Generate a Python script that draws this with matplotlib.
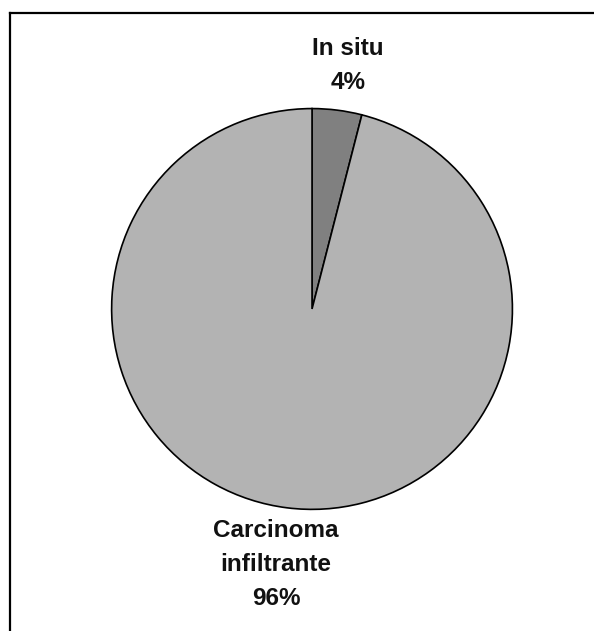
import matplotlib.pyplot as plt
from matplotlib.lines import Line2D

# tumour type shares
labels = ["In situ", "Carcinoma\ninfiltrante"]
shares = [4, 96]
colors = ["#808080", "#b3b3b3"]

plt.rcParams['font.family'] = ['Liberation Sans', 'DejaVu Sans']

fig = plt.figure(figsize=(5.94, 6.31), dpi=100)
ax = fig.add_axes([0.1869, 0.1918, 0.6768, 0.6371])
ax.pie(shares, colors=colors, startangle=90, counterclock=False,
       wedgeprops=dict(edgecolor="black", linewidth=1.2))
ax.set_xlim(-1.003, 1.003)
ax.set_ylim(-1.003, 1.003)
ax.set_aspect("equal")

# labels with percentages
fig.text(0.586, 0.859, f"{labels[0]}\n{shares[0]}%", ha="center", va="baseline",
         fontsize=17.5, fontweight="bold", linespacing=1.62, color="#111111")
fig.text(0.465, 0.041, f"{labels[1]}\n{shares[1]}%", ha="center", va="baseline",
         fontsize=17.5, fontweight="bold", linespacing=1.62, color="#111111")

# frame on top and left edges
fig.add_artist(Line2D([0.0168, 1.0], [0.9794, 0.9794], color="black", linewidth=1.6))
fig.add_artist(Line2D([0.0168, 0.0168], [0.0, 0.9794], color="black", linewidth=1.6))

fig.savefig("out.png", dpi=100)
